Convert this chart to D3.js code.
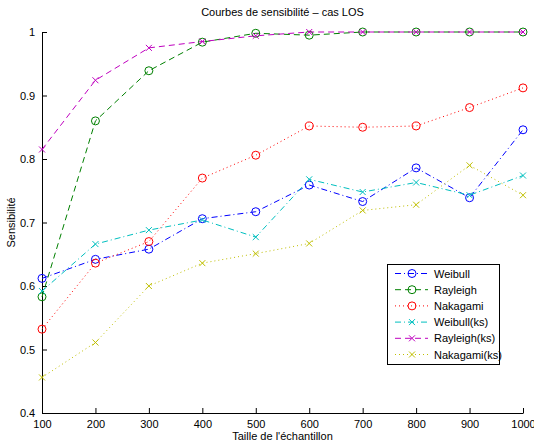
<!DOCTYPE html>
<html><head><meta charset="utf-8">
<script src="https://cdn.jsdelivr.net/npm/d3@7"></script>
<style>body{margin:0;background:#fff}svg{display:block}text{font-family:"Liberation Sans",Arial,Helvetica,sans-serif}</style>
</head><body>
<script>
const sizes = [100,200,300,400,500,600,700,800,900,1000];
const weibull    = [0.612,0.642,0.658,0.706,0.717,0.759,0.733,0.786,0.739,0.846];
const rayleigh   = [0.583,0.860,0.939,0.984,0.998,0.995,1.0,1.0,1.0,1.0];
const nakagami   = [0.532,0.636,0.670,0.770,0.806,0.852,0.850,0.852,0.881,0.912];
const weibullKs  = [0.592,0.666,0.688,0.704,0.677,0.768,0.748,0.763,0.743,0.774];
const rayleighKs = [0.815,0.924,0.975,0.985,0.994,1.0,1.0,1.0,1.0,1.0];
const nakagamiKs = [0.456,0.511,0.600,0.636,0.651,0.667,0.719,0.728,0.790,0.743];
const seriesNames = ["Weibull","Rayleigh","Nakagami","Weibull(ks)","Rayleigh(ks)","Nakagami(ks)"];
const xTicks = [100,200,300,400,500,600,700,800,900,1000];
const yTicks = [0.4,0.5,0.6,0.7,0.8,0.9,1];

const W=534,H=443;
const L=42,R=523,T=32,B=413;
const svg=d3.select("body").append("svg").attr("width",W).attr("height",H);
const x=d3.scaleLinear().domain([100,1000]).range([L,R]);
const y=d3.scaleLinear().domain([0.4,1]).range([B,T]);

const styles=[
 {data:weibull,color:"#0000ff",dash:"6,3,1,3",marker:"o"},
 {data:rayleigh,color:"#008000",dash:"6,4",marker:"o"},
 {data:nakagami,color:"#ff0000",dash:"1,3",marker:"o"},
 {data:weibullKs,color:"#00bfbf",dash:"6,3,1,3",marker:"x"},
 {data:rayleighKs,color:"#bf00bf",dash:"6,4",marker:"x"},
 {data:nakagamiKs,color:"#bfbf00",dash:"1,3",marker:"x"}
];

// axes
const xAxis=d3.axisBottom(x).tickValues(xTicks).tickSizeInner(-5).tickSizeOuter(0).tickPadding(9).tickFormat(d3.format("d"));
const gx=svg.append("g").attr("transform",`translate(0,${B})`).call(xAxis);
const yAxis=d3.axisLeft(y).tickValues(yTicks).tickSizeInner(-5).tickSizeOuter(0).tickPadding(9).tickFormat(d=>d===1?"1":d3.format(".1f")(d));
const gy=svg.append("g").attr("transform",`translate(${L},0)`).call(yAxis);
[gx,gy].forEach(g=>{g.selectAll("text").attr("font-size",11).attr("fill","#000").style("font-family","Liberation Sans, Arial, sans-serif");g.select(".domain").attr("stroke","#000");g.selectAll(".tick line").attr("stroke","#000");});
gx.selectAll("text").attr("dy","0.55em");
gy.selectAll("text").attr("dx","0.2em");

function drawMarker(g,type,cx,cy,color){
  if(type==="o"){
    g.append("circle").attr("cx",cx).attr("cy",cy).attr("r",4).attr("fill","none").attr("stroke",color).attr("stroke-width",1);
  } else {
    const s=3;
    g.append("path").attr("d",`M${cx-s},${cy-s}L${cx+s},${cy+s}M${cx-s},${cy+s}L${cx+s},${cy-s}`).attr("stroke",color).attr("stroke-width",1);
  }
}

const line=d3.line().x((d,i)=>x(sizes[i])).y(d=>y(d));
styles.forEach(s=>{
  const g=svg.append("g");
  g.append("path").datum(s.data).attr("d",line).attr("fill","none").attr("stroke",s.color).attr("stroke-width",1).attr("stroke-dasharray",s.dash);
  s.data.forEach((v,i)=>drawMarker(g,s.marker,x(sizes[i]),y(v),s.color));
});

// title & labels
svg.append("text").attr("x",(L+R)/2).attr("y",16).attr("text-anchor","middle").attr("font-size",11).text("Courbes de sensibilité – cas LOS");
svg.append("text").attr("x",(L+R)/2).attr("y",440).attr("text-anchor","middle").attr("font-size",11).text("Taille de l'échantillon");
svg.append("text").attr("transform",`translate(15,${(T+B)/2}) rotate(-90)`).attr("text-anchor","middle").attr("font-size",11).text("Sensibilité");

// legend
const lg=svg.append("g");
lg.append("rect").attr("x",387.5).attr("y",264.5).attr("width",112).attr("height",100).attr("fill","#fff").attr("stroke","#000").attr("stroke-width",1);
styles.forEach((s,i)=>{
  const cy=273.5+i*16.2;
  lg.append("line").attr("x1",395).attr("x2",428).attr("y1",cy).attr("y2",cy).attr("stroke",s.color).attr("stroke-dasharray",s.dash);
  drawMarker(lg,s.marker,412,cy,s.color);
  lg.append("text").attr("x",434).attr("y",cy+4).attr("font-size",11).text(seriesNames[i]);
});
</script>
</body></html>
